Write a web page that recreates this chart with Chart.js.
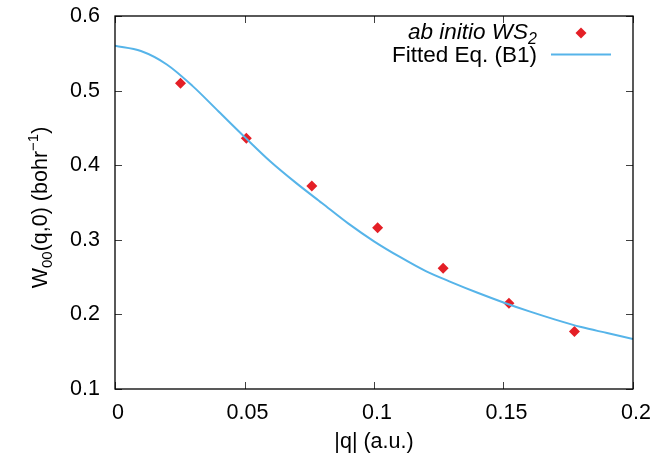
<!DOCTYPE html>
<html><head><meta charset="utf-8">
<script src="https://cdn.jsdelivr.net/npm/chart.js@4/dist/chart.umd.min.js"></script>
<style>html,body{margin:0;padding:0;background:#fff;}</style>
</head><body>
<canvas id="c" width="669" height="459"></canvas>
<script>
// ---- data ----
const qAbInitio = [0.0253, 0.0507, 0.0760, 0.1014, 0.1267, 0.1521, 0.1774];
const wAbInitio = [0.510, 0.436, 0.372, 0.316, 0.262, 0.215, 0.177];
const qFit = [0, 0.01, 0.02, 0.03, 0.04, 0.05, 0.06, 0.07, 0.08, 0.09, 0.10,
              0.11, 0.12, 0.13, 0.14, 0.15, 0.16, 0.17, 0.18, 0.19, 0.20];
const wFit = [0.560, 0.553, 0.535, 0.506, 0.472, 0.438, 0.405, 0.376, 0.349, 0.322, 0.298,
              0.277, 0.258, 0.243, 0.229, 0.216, 0.204, 0.193, 0.183, 0.175, 0.167];
const xTicks = [0, 0.05, 0.1, 0.15, 0.2];
const yTicks = [0.1, 0.2, 0.3, 0.4, 0.5, 0.6];
const seriesNames = ['ab initio WS', 'Fitted Eq. (B1)'];
const seriesSubscripts = ['2', ''];
const xTitle = '|q| (a.u.)';
const yTitleParts = ['W', '00', '(q,0) (bohr', '\u22121', ')'];

const FONT = 'Liberation Sans, Arial, sans-serif';
const FS = 21.5;
const LFS = 22.5;
const SFS = 15;
const RED = '#e41f26';
const BLUE = '#56b4e9';

function drawParts(ctx, parts, x, y, align) {
  const widths = parts.map(p => { ctx.font = (p.italic ? 'italic ' : '') + p.size + 'px ' + FONT; return ctx.measureText(p.t).width; });
  const total = widths.reduce((a, b) => a + b, 0);
  let cx = align === 'right' ? x - total : (align === 'center' ? x - total / 2 : x);
  ctx.textAlign = 'left';
  ctx.textBaseline = 'alphabetic';
  parts.forEach((p, i) => {
    ctx.font = (p.italic ? 'italic ' : '') + p.size + 'px ' + FONT;
    ctx.fillText(p.t, cx, y + p.dy);
    cx += widths[i];
  });
}

const framePlugin = {
  id: 'frame',
  afterDraw(chart) {
    const ctx = chart.ctx, a = chart.chartArea;
    const xs = chart.scales.x, ys = chart.scales.y;
    ctx.save();
    ctx.strokeStyle = 'rgba(0,0,0,0.75)';
    ctx.lineWidth = 1;
    const TL = 7;
    ctx.beginPath();
    xTicks.forEach(v => {
      const px = Math.round(xs.getPixelForValue(v)) + 0.5;
      ctx.moveTo(px, a.bottom); ctx.lineTo(px, a.bottom - TL);
      ctx.moveTo(px, a.top); ctx.lineTo(px, a.top + TL);
    });
    yTicks.forEach(v => {
      const py = Math.round(ys.getPixelForValue(v)) + 0.5;
      ctx.moveTo(a.left, py); ctx.lineTo(a.left + TL, py);
      ctx.moveTo(a.right, py); ctx.lineTo(a.right - TL, py);
    });
    ctx.stroke();
    ctx.strokeStyle = '#000';
    ctx.lineWidth = 1.3;
    ctx.strokeRect(a.left, a.top, a.right - a.left, a.bottom - a.top);

    ctx.fillStyle = '#000';
    drawParts(ctx, [{t: xTitle, size: FS, dy: 0}], (a.left + a.right) / 2, 448, 'center');
    ctx.save();
    ctx.translate(47, (a.top + a.bottom) / 2 + 5);
    ctx.rotate(-Math.PI / 2);
    drawParts(ctx, [
      {t: yTitleParts[0], size: FS, dy: 0},
      {t: yTitleParts[1], size: SFS, dy: 5},
      {t: yTitleParts[2], size: FS, dy: 0},
      {t: yTitleParts[3], size: SFS, dy: -9},
      {t: yTitleParts[4], size: FS, dy: 0}
    ], 0, 0, 'center');
    ctx.restore();

    const lx = 537;
    drawParts(ctx, [
      {t: seriesNames[0], size: LFS, dy: 0, italic: true},
      {t: seriesSubscripts[0], size: SFS + 1, dy: 5, italic: true}
    ], lx, 39, 'right');
    drawParts(ctx, [{t: seriesNames[1], size: LFS, dy: 0}], lx, 62, 'right');
    ctx.fillStyle = RED;
    const dx = 581, dy = 33, r = 5.5;
    ctx.beginPath();
    ctx.moveTo(dx, dy - r); ctx.lineTo(dx + r, dy); ctx.lineTo(dx, dy + r); ctx.lineTo(dx - r, dy);
    ctx.closePath(); ctx.fill();
    ctx.strokeStyle = BLUE; ctx.lineWidth = 2;
    ctx.beginPath(); ctx.moveTo(551, 54.5); ctx.lineTo(611, 54.5); ctx.stroke();
    ctx.restore();
  }
};

const fmt = v => String(Number(v.toFixed(3)));

new Chart(document.getElementById('c'), {
  type: 'scatter',
  data: {
    datasets: [
      {
        label: seriesNames[0] + seriesSubscripts[0],
        data: qAbInitio.map((q, i) => ({x: q, y: wAbInitio[i]})),
        pointStyle: 'rectRot',
        pointRadius: 5.5,
        pointHoverRadius: 5.5,
        backgroundColor: RED,
        borderColor: RED,
        borderWidth: 0,
        order: 2
      },
      {
        label: seriesNames[1],
        data: qFit.map((q, i) => ({x: q, y: wFit[i]})),
        showLine: true,
        pointRadius: 0,
        borderColor: BLUE,
        borderWidth: 2,
        cubicInterpolationMode: 'monotone',
        order: 1
      }
    ]
  },
  options: {
    responsive: false,
    animation: false,
    events: [],
    layout: {padding: {left: 0, top: 16, right: 36, bottom: 0}},
    plugins: {legend: {display: false}, tooltip: {enabled: false}},
    scales: {
      x: {
        type: 'linear', min: 0, max: 0.2,
        afterBuildTicks: s => { s.ticks = xTicks.map(v => ({value: v})); },
        afterFit: s => { s.height = 70; s.paddingLeft = 0; s.paddingRight = 0; s.paddingTop = 0; s.paddingBottom = 0; },
        grid: {display: false, drawTicks: false},
        border: {display: false},
        ticks: {font: {family: FONT, size: FS}, color: '#000', padding: 11, labelOffset: 3, maxRotation: 0, callback: v => fmt(v)}
      },
      y: {
        type: 'linear', min: 0.1, max: 0.6,
        afterBuildTicks: s => { s.ticks = yTicks.map(v => ({value: v})); },
        afterFit: s => { s.width = 115; s.paddingLeft = 0; s.paddingRight = 0; s.paddingTop = 0; s.paddingBottom = 0; },
        grid: {display: false, drawTicks: false},
        border: {display: false},
        ticks: {font: {family: FONT, size: FS}, color: '#000', padding: 15, callback: v => fmt(v)}
      }
    }
  },
  plugins: [framePlugin]
});
</script>
</body></html>
